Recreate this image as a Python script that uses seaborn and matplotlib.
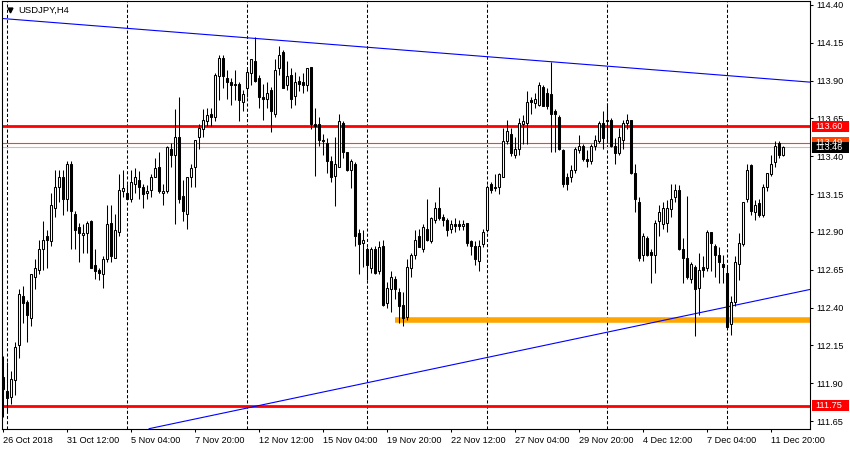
import numpy as np
import matplotlib
matplotlib.use("Agg")
import matplotlib.pyplot as plt
import matplotlib.transforms as mtransforms
from matplotlib.patches import Rectangle
import seaborn as sns

# USDJPY H4 candles, 26 Oct 2018 20:00 .. 12 Dec 2018 08:00
opens = [
    111.94, 111.85, 111.81, 111.92, 112.15, 112.48, 112.44, 112.33, 112.60, 112.65,
    112.79, 112.87, 112.84, 113.06, 113.20, 113.26, 113.12, 113.35, 113.02, 112.93,
    112.88, 112.89, 112.97, 112.68, 112.65, 112.62, 112.72, 112.96, 112.73, 112.90,
    113.17, 113.16, 113.12, 113.22, 113.24, 113.20, 113.16, 113.18, 113.26, 113.33,
    113.16, 113.17, 113.45, 113.41, 113.53, 113.14, 113.02, 113.26, 113.33, 113.53,
    113.58, 113.63, 113.68, 113.66, 113.93, 114.05, 113.92, 113.89, 113.88, 113.88,
    113.76, 113.85, 113.95, 114.03, 113.92, 113.79, 113.78, 113.84, 113.68, 113.98,
    114.09, 113.87, 113.94, 113.80, 113.90, 113.89, 113.87, 113.99, 113.61, 113.61,
    113.51, 113.49, 113.37, 113.27, 113.33, 113.62, 113.43, 113.31, 113.35, 112.89,
    112.83, 112.79, 112.66, 112.79, 112.64, 112.81, 112.43, 112.52, 112.59, 112.50,
    112.42, 112.34, 112.66, 112.75, 112.87, 112.79, 112.92, 112.84, 112.98, 113.06,
    113.00, 112.98, 112.92, 112.95, 112.95, 112.94, 112.96, 112.84, 112.81, 112.71,
    112.82, 112.91, 113.22, 113.20, 113.20, 113.26, 113.50, 113.55, 113.41, 113.45,
    113.61, 113.62, 113.77, 113.75, 113.74, 113.86, 113.82, 113.81, 113.70, 113.66,
    113.44, 113.26, 113.26, 113.31, 113.44, 113.47, 113.38, 113.37, 113.47, 113.50,
    113.62, 113.63, 113.64, 113.47, 113.42, 113.51, 113.62, 113.64, 113.29, 113.10,
    112.75, 112.86, 112.77, 112.75, 112.97, 112.95, 112.96, 113.05, 113.13, 113.18,
    112.79, 112.73, 112.59, 112.67, 112.53, 112.67, 112.66, 112.90, 112.81, 112.75,
    112.69, 112.63, 112.29, 112.44, 112.69, 112.82, 113.12, 113.34, 113.03, 113.09,
    113.01, 113.20, 113.28, 113.36, 113.49, 113.41,
]
highs = [
    112.08, 112.04, 111.98, 112.17, 112.52, 112.54, 112.45, 112.62, 112.72, 112.85,
    112.97, 112.91, 113.16, 113.31, 113.31, 113.31, 113.37, 113.37, 113.04, 112.96,
    112.95, 112.97, 112.98, 112.79, 112.66, 112.74, 113.08, 113.08, 113.02, 113.28,
    113.31, 113.22, 113.31, 113.32, 113.30, 113.22, 113.21, 113.28, 113.39, 113.43,
    113.22, 113.47, 113.49, 113.71, 113.79, 113.24, 113.26, 113.35, 113.51, 113.61,
    113.71, 113.72, 113.72, 113.95, 114.07, 114.07, 113.97, 113.92, 113.97, 113.89,
    113.84, 113.98, 114.04, 114.19, 113.94, 113.88, 113.89, 113.86, 114.04, 114.13,
    114.10, 114.03, 113.98, 113.96, 113.93, 113.95, 113.98, 113.99, 113.72, 113.66,
    113.55, 113.52, 113.40, 113.53, 113.68, 113.63, 113.43, 113.38, 113.36, 112.92,
    112.91, 112.80, 112.80, 112.81, 112.84, 112.85, 112.57, 112.64, 112.61, 112.53,
    112.50, 112.72, 112.76, 112.91, 112.92, 112.95, 113.12, 113.00, 113.10, 113.20,
    113.02, 112.99, 112.98, 112.99, 112.98, 112.98, 112.96, 112.85, 112.84, 112.85,
    112.92, 113.21, 113.23, 113.28, 113.29, 113.59, 113.64, 113.59, 113.53, 113.65,
    113.67, 113.83, 113.79, 113.82, 113.89, 113.87, 113.85, 114.02, 113.71, 113.67,
    113.45, 113.29, 113.34, 113.46, 113.54, 113.48, 113.44, 113.48, 113.54, 113.63,
    113.70, 113.75, 113.65, 113.52, 113.59, 113.64, 113.68, 113.64, 113.35, 113.13,
    112.89, 112.87, 112.79, 112.98, 113.08, 113.10, 113.11, 113.22, 113.22, 113.21,
    112.86, 113.14, 112.70, 112.68, 112.76, 112.74, 112.91, 112.90, 112.82, 112.80,
    112.75, 112.67, 112.48, 112.74, 112.89, 113.10, 113.35, 113.35, 113.11, 113.12,
    113.22, 113.29, 113.41, 113.50, 113.50, 113.47,
]
lows = [
    111.68, 111.72, 111.76, 111.82, 112.07, 112.30, 112.17, 112.28, 112.52, 112.62,
    112.65, 112.66, 112.81, 113.00, 113.10, 113.01, 113.04, 112.79, 112.79, 112.70,
    112.76, 112.76, 112.66, 112.59, 112.58, 112.53, 112.70, 112.70, 112.73, 112.87,
    113.13, 113.12, 113.10, 113.16, 113.12, 113.06, 113.12, 113.13, 113.26, 113.16,
    113.08, 113.16, 113.33, 112.95, 113.09, 112.97, 112.92, 113.20, 113.20, 113.45,
    113.53, 113.60, 113.60, 113.63, 113.77, 113.85, 113.78, 113.74, 113.77, 113.63,
    113.70, 113.79, 113.87, 113.89, 113.72, 113.64, 113.72, 113.56, 113.66, 113.94,
    113.85, 113.84, 113.72, 113.74, 113.83, 113.82, 113.83, 113.58, 113.27, 113.47,
    113.41, 113.29, 113.23, 113.07, 113.33, 113.39, 113.30, 113.19, 112.81, 112.62,
    112.67, 112.58, 112.63, 112.62, 112.62, 112.41, 112.40, 112.37, 112.46, 112.30,
    112.28, 112.32, 112.60, 112.72, 112.80, 112.77, 112.84, 112.83, 112.96, 112.98,
    112.94, 112.87, 112.89, 112.90, 112.91, 112.91, 112.81, 112.75, 112.68, 112.64,
    112.80, 112.90, 113.16, 113.17, 113.15, 113.26, 113.48, 113.40, 113.39, 113.41,
    113.48, 113.48, 113.68, 113.72, 113.73, 113.73, 113.71, 113.43, 113.43, 113.44,
    113.20, 113.18, 113.23, 113.29, 113.42, 113.37, 113.33, 113.35, 113.44, 113.49,
    113.45, 113.49, 113.46, 113.35, 113.41, 113.45, 113.58, 113.28, 113.03, 112.71,
    112.71, 112.74, 112.56, 112.63, 112.87, 112.92, 112.90, 113.00, 113.10, 112.78,
    112.56, 112.59, 112.56, 112.21, 112.35, 112.60, 112.64, 112.64, 112.60, 112.56,
    112.56, 112.26, 112.22, 112.41, 112.58, 112.81, 113.10, 113.01, 112.98, 113.00,
    113.00, 113.17, 113.27, 113.33, 113.39, 113.40,
]
closes = [
    111.86, 111.80, 111.93, 112.14, 112.49, 112.43, 112.35, 112.62, 112.66, 112.79,
    112.85, 112.85, 113.08, 113.20, 113.26, 113.12, 113.35, 113.04, 112.91, 112.89,
    112.89, 112.96, 112.66, 112.64, 112.63, 112.72, 112.95, 112.74, 112.91, 113.18,
    113.19, 113.12, 113.23, 113.26, 113.20, 113.15, 113.17, 113.26, 113.32, 113.17,
    113.17, 113.46, 113.41, 113.53, 113.12, 113.04, 113.26, 113.32, 113.51, 113.59,
    113.64, 113.67, 113.66, 113.94, 114.05, 113.93, 113.89, 113.87, 113.87, 113.77,
    113.81, 113.96, 114.04, 113.90, 113.79, 113.78, 113.82, 113.70, 113.97, 114.07,
    113.85, 113.93, 113.78, 113.89, 113.88, 113.87, 113.98, 113.61, 113.60, 113.51,
    113.50, 113.37, 113.26, 113.35, 113.63, 113.43, 113.31, 113.37, 112.87, 112.82,
    112.85, 112.68, 112.79, 112.63, 112.80, 112.42, 112.53, 112.60, 112.52, 112.41,
    112.33, 112.67, 112.75, 112.85, 112.80, 112.93, 112.85, 112.99, 113.06, 112.99,
    112.98, 112.91, 112.95, 112.94, 112.94, 112.95, 112.83, 112.81, 112.72, 112.81,
    112.90, 113.20, 113.18, 113.19, 113.28, 113.50, 113.57, 113.42, 113.45, 113.62,
    113.63, 113.76, 113.76, 113.78, 113.87, 113.73, 113.73, 113.68, 113.68, 113.45,
    113.22, 113.22, 113.31, 113.45, 113.47, 113.38, 113.37, 113.47, 113.51, 113.62,
    113.52, 113.64, 113.47, 113.42, 113.53, 113.62, 113.64, 113.29, 113.12, 112.73,
    112.87, 112.75, 112.75, 112.96, 113.03, 113.06, 113.06, 113.12, 113.18, 112.79,
    112.73, 112.60, 112.69, 112.52, 112.65, 112.65, 112.90, 112.83, 112.75, 112.70,
    112.67, 112.27, 112.44, 112.70, 112.83, 113.10, 113.31, 113.04, 113.08, 113.01,
    113.20, 113.29, 113.35, 113.47, 113.41, 113.46,
]

xtick_bars = [0, 16, 32, 48, 64, 80, 96, 112, 128, 144, 160, 176, 192]
xtick_labels = ["26 Oct 2018", "31 Oct 12:00", "5 Nov 04:00", "7 Nov 20:00",
                "12 Nov 12:00", "15 Nov 04:00", "19 Nov 20:00", "22 Nov 12:00",
                "27 Nov 04:00", "29 Nov 20:00", "4 Dec 12:00", "7 Dec 04:00",
                "11 Dec 20:00"]
ytick_vals = [111.65, 111.90, 112.15, 112.40, 112.65, 112.90,
              113.15, 113.40, 113.65, 113.90, 114.15, 114.40]
week_starts = [1, 31, 61, 91, 121, 151, 181]

resistance = 113.60
support = 111.75
ask_level = 113.49
bid_level = 113.46
zone_level = 112.32
zone_start_bar = 98
upper_trend_bars = [0, 201.75]
upper_trend_prices = [114.31, 113.89]
lower_trend_bars = [36.5, 201.75]
lower_trend_prices = [111.60, 112.52]

RED = "#FF0000"; ORANGE = "#FFA500"; ORANGERED = "#FF4500"
BLUE = "#0000FF"; SILVER = "#C0C0C0"

sns.set_theme(style="white")
plt.rcParams["font.family"] = ["Liberation Sans", "DejaVu Sans"]
FS = 6.6

fig = plt.figure(figsize=(8.5, 4.5), dpi=100, facecolor="white")
ax = fig.add_axes([2 / 850, 21 / 450, 808 / 850, 428 / 450])
ax.set_facecolor("white")
xmin, xmax = -0.25, 201.75
ymin, ymax = 111.598, 114.426
ax.set_xlim(xmin, xmax)
ax.set_ylim(ymin, ymax)

o = np.array(opens); h = np.array(highs); l = np.array(lows); c = np.array(closes)
x = np.arange(len(o))
up = c >= o

# week separators
for b in week_starts:
    ax.axvline(b, color="black", lw=0.75, linestyle=(0, (3, 2)), zorder=1)

# horizontal levels
ax.axhline(resistance, color=RED, lw=2.0, zorder=2)
ax.axhline(support, color=RED, lw=2.0, zorder=2)
ax.axhline(ask_level, color=ORANGERED, lw=0.8, zorder=2)
ax.axhline(bid_level, color=SILVER, lw=0.8, zorder=2)
ax.hlines(zone_level, zone_start_bar, xmax, color=ORANGE, lw=4, zorder=2)

# trend lines
sns.lineplot(x=upper_trend_bars, y=upper_trend_prices, ax=ax, color=BLUE, lw=0.8, zorder=2)
sns.lineplot(x=lower_trend_bars, y=lower_trend_prices, ax=ax, color=BLUE, lw=0.8, zorder=2)

# candles
ax.vlines(x, l, h, color="black", lw=0.75, zorder=3)
bottom = np.minimum(o, c)
height = np.maximum(np.abs(c - o), 0.003)
ax.bar(x[up], height[up], bottom=bottom[up], width=0.5, color="white",
       edgecolor="black", linewidth=0.75, zorder=4)
ax.bar(x[~up], height[~up], bottom=bottom[~up], width=0.5, color="black",
       edgecolor="black", linewidth=0.75, zorder=4)

# axes styling
for sp in ax.spines.values():
    sp.set_visible(True); sp.set_edgecolor("black"); sp.set_linewidth(0.8)
ax.yaxis.tick_right()
ax.set_yticks(ytick_vals)
ax.set_yticklabels([f"{v:.2f}" for v in ytick_vals])
ax.set_xticks(xtick_bars)
ax.set_xticklabels(xtick_labels, ha="left")
ax.tick_params(axis="y", right=True, left=False, direction="out", length=2.5,
               width=0.75, pad=2, labelsize=FS, colors="black")
ax.tick_params(axis="x", bottom=True, direction="out", length=2.5, width=0.75,
               pad=2.5, labelsize=FS, colors="black")
ax.set_xlabel(""); ax.set_ylabel("")

# price tags on the right
trans = mtransforms.blended_transform_factory(ax.transAxes, ax.transData)
tag_h = 11 / 151.3
for price, col in [(resistance, RED), (support, RED), (ask_level, ORANGERED), (bid_level, "black")]:
    ax.add_patch(Rectangle((1.0025, price - tag_h / 2), 0.0458, tag_h, transform=trans,
                           facecolor=col, edgecolor="none", clip_on=False, zorder=10))
    ax.text(1.0062, price, f"{price:.2f}", transform=trans, ha="left", va="center",
            color="white", fontsize=FS, clip_on=False, zorder=11)

# symbol title
ax.plot([0.0099], [0.979], marker="v", ms=3.5, color="black", transform=ax.transAxes,
        clip_on=False, zorder=10)
ax.text(0.0198, 0.979, "USDJPY,H4", transform=ax.transAxes, ha="left", va="center",
        fontsize=FS + 0.2, color="black", zorder=10)

fig.savefig("out.png", dpi=100, facecolor="white")
